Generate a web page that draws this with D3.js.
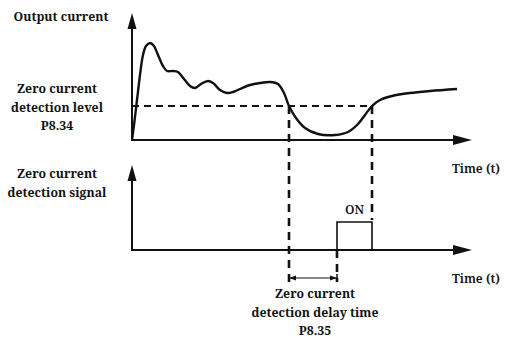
<!DOCTYPE html>
<html>
<head>
<meta charset="utf-8">
<script src="https://cdn.jsdelivr.net/npm/d3@7/dist/d3.min.js"></script>
<style>
  html, body { margin: 0; padding: 0; background: #fff; }
</style>
</head>
<body>
<svg id="chart" width="507" height="338"></svg>
<script>
// Output current waveform (time units, current units)
const timeValues = [0, 0.2, 0.5, 0.8, 1.1, 1.4, 1.8, 2.2, 2.6, 3.1, 3.5, 4.1, 4.6, 5.2, 5.8, 6.3, 6.9, 7.6, 8.1, 8.8, 9.5, 10.1, 10.8, 11.8, 12.8, 13.8, 14.6, 15.2, 15.7, 16.4, 17.3, 18.6, 20.3, 21.6, 22.6, 23.3, 24.0, 24.8, 26.0, 27.8, 29.8, 32.5];
const currentValues = [0, 1.5, 4.0, 6.5, 8.5, 9.4, 9.7, 9.4, 8.5, 7.4, 6.9, 6.9, 6.8, 6.1, 5.4, 5.2, 5.6, 5.9, 5.7, 5.0, 4.7, 4.8, 5.1, 5.5, 5.7, 5.8, 5.6, 4.7, 3.4, 2.2, 1.2, 0.6, 0.5, 0.8, 1.6, 2.5, 3.4, 4.0, 4.4, 4.7, 4.9, 5.1];

// Zero current detection level (P8.34) and the key instants
const detectionLevel = 3.4;
const dropTime = 15.7;      // current falls below the level
const signalOnTime = 20.5;  // after the detection delay (P8.35)
const recoverTime = 24.0;   // current rises above the level
const signalTimes = [0, signalOnTime, signalOnTime, recoverTime, recoverTime, 32];
const signalValues = [0, 0, 1, 1, 0, 0];

// Text labels
const currentAxisTitle = ["Output current"];
const levelLabel = ["Zero current", "detection level", "P8.34"];
const signalAxisTitle = ["Zero current", "detection signal"];
const delayLabel = ["Zero current", "detection delay time", "P8.35"];
const timeLabel = "Time (t)";
const onLabel = "ON";

const FONT = "'Noto Serif', 'Liberation Serif', 'DejaVu Serif', serif";

const svg = d3.select("#chart");

// Shared time scale, two vertical scales
const x = d3.scaleLinear().domain([0, 34]).range([132, 472]);
const yTop = d3.scaleLinear().domain([0, 10]).range([140, 40]);
const yBot = d3.scaleLinear().domain([0, 1]).range([250, 222]);

const ink = "#111";

function axisPair(y0, yTopPx) {
  // vertical axis with arrowhead
  svg.append("line").attr("x1", x(0)).attr("x2", x(0))
    .attr("y1", y0).attr("y2", yTopPx + 10)
    .attr("stroke", ink).attr("stroke-width", 2);
  svg.append("path")
    .attr("d", `M${x(0)},${yTopPx} L${x(0) - 4.5},${yTopPx + 16} L${x(0) + 4.5},${yTopPx + 16} Z`)
    .attr("fill", ink);
  // horizontal axis with arrowhead
  svg.append("line").attr("x1", x(0) - 1).attr("x2", x(34) - 10)
    .attr("y1", y0).attr("y2", y0)
    .attr("stroke", ink).attr("stroke-width", 2);
  svg.append("path")
    .attr("d", `M${x(34)},${y0} L${x(34) - 19},${y0 - 5} L${x(34) - 19},${y0 + 5} Z`)
    .attr("fill", ink);
}

axisPair(yTop(0), 13);
axisPair(yBot(0), 165);

// Detection level dashed line
svg.append("line")
  .attr("x1", x(0)).attr("x2", x(recoverTime))
  .attr("y1", yTop(detectionLevel)).attr("y2", yTop(detectionLevel))
  .attr("stroke", ink).attr("stroke-width", 2)
  .attr("stroke-dasharray", "7,5");

// Vertical dashed guides
const guide = (t, y1, y2) => svg.append("line")
  .attr("x1", x(t)).attr("x2", x(t)).attr("y1", y1).attr("y2", y2)
  .attr("stroke", ink).attr("stroke-width", 2.6)
  .attr("stroke-dasharray", "8,6");
guide(dropTime, yTop(detectionLevel), 282);
guide(recoverTime, yTop(detectionLevel), yBot(1) - 2);
guide(signalOnTime, yBot(0), 282);

// Output current curve
const pts = timeValues.map((t, i) => [t, currentValues[i]]);
svg.append("path")
  .datum(pts)
  .attr("d", d3.line().x(d => x(d[0])).y(d => yTop(d[1])).curve(d3.curveCatmullRom.alpha(0.5)))
  .attr("fill", "none").attr("stroke", ink).attr("stroke-width", 2.4)
  .attr("stroke-linejoin", "round");

// Detection signal pulse
const sig = signalTimes.map((t, i) => [t, signalValues[i]]);
svg.append("path")
  .datum(sig.slice(1, 5))
  .attr("d", d3.line().x(d => x(d[0])).y(d => yBot(d[1])))
  .attr("fill", "none").attr("stroke", ink).attr("stroke-width", 1.6);

// Delay dimension arrow
const dimY = 278;
svg.append("line").attr("x1", x(dropTime)).attr("x2", x(signalOnTime))
  .attr("y1", dimY).attr("y2", dimY).attr("stroke", ink).attr("stroke-width", 1.2);
[[dropTime, 1], [signalOnTime, -1]].forEach(([t, dir]) => {
  const px = x(t);
  svg.append("path")
    .attr("d", `M${px},${dimY} L${px + dir * 7},${dimY - 2.5} L${px + dir * 7},${dimY + 2.5} Z`)
    .attr("fill", ink);
  svg.append("line").attr("x1", px).attr("x2", px)
    .attr("y1", dimY - 4).attr("y2", dimY + 4)
    .attr("stroke", ink).attr("stroke-width", 1.5);
});

// Labels
function label(x0, y0, s, size, weight, anchor) {
  return svg.append("text").attr("x", x0).attr("y", y0)
    .attr("text-anchor", anchor || "middle")
    .attr("font-family", FONT).attr("font-weight", weight)
    .attr("font-size", size).attr("fill", ink).text(s);
}
function block(lines, cx, y0, dy) {
  lines.forEach((s, i) => label(cx, y0 + i * dy, s, 12.3, "bold"));
}
block(currentAxisTitle, 61, 21, 0);
block(levelLabel, 57, 93, 18.5);
block(signalAxisTitle, 57, 178, 18.5);
block(delayLabel, x(18.3), 298, 18.5);

label(500, 173, timeLabel, 12.3, "600", "end");
label(500, 283, timeLabel, 12.3, "600", "end");
label(x((signalOnTime + recoverTime) / 2), 214, onLabel, 12.3, "600");
</script>
</body>
</html>
